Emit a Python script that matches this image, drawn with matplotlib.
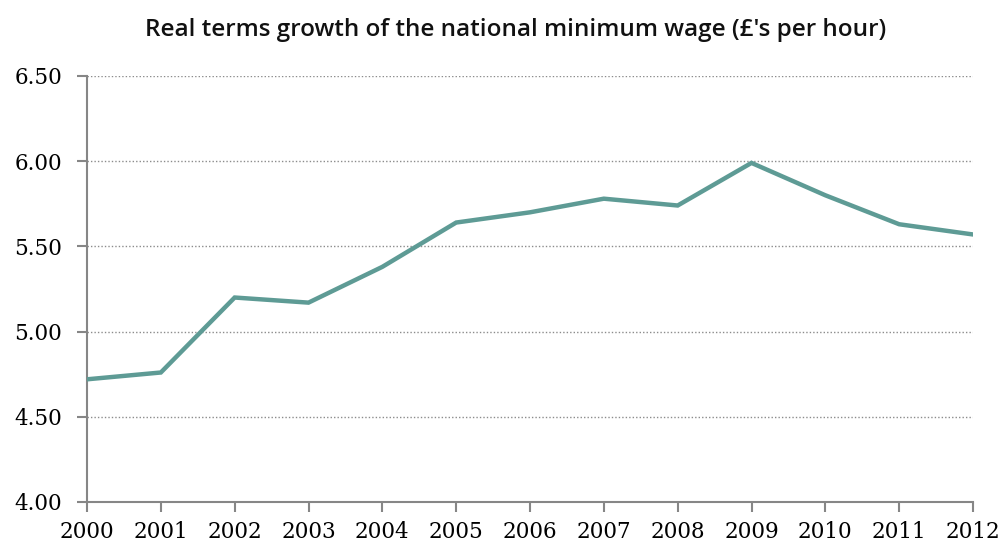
import matplotlib.pyplot as plt

years = [2000, 2001, 2002, 2003, 2004, 2005, 2006, 2007, 2008, 2009, 2010, 2011, 2012]
wage = [4.72, 4.76, 5.20, 5.17, 5.38, 5.64, 5.70, 5.78, 5.74, 5.99, 5.80, 5.63, 5.57]
yticks = [4.00, 4.50, 5.00, 5.50, 6.00, 6.50]

axis_grey = "#868686"

fig = plt.figure(figsize=(10.03, 5.46), dpi=100)
ax = fig.add_axes([87 / 1003, 1 - 502 / 546, 886 / 1003, 426 / 546])

ax.plot(years, wage, color="#5E9B95", lw=3.2, solid_joinstyle="miter", zorder=3)

ax.set_xlim(years[0], years[-1])
ax.set_ylim(yticks[0], yticks[-1])
ax.set_xticks(years)
ax.set_yticks(yticks)
ax.set_yticklabels([f"{v:.2f}" for v in yticks])

for t in yticks[1:]:
    ax.axhline(t, color="#8c8c8c", lw=1.0, ls=(0, (1, 1.5)), zorder=1)

for side in ("top", "right"):
    ax.spines[side].set_visible(False)
for side in ("left", "bottom"):
    ax.spines[side].set_color(axis_grey)
    ax.spines[side].set_linewidth(1.5)

ax.tick_params(axis="y", direction="out", length=7, width=1.5, color=axis_grey, pad=11)
ax.tick_params(axis="x", direction="out", length=7, width=1.5, color=axis_grey, pad=7)
for lbl in ax.get_xticklabels() + ax.get_yticklabels():
    lbl.set_family("DejaVu Serif")
    lbl.set_fontsize(15.5)
    lbl.set_color("#000000")

fig.text(516 / 1003, 1 - 30 / 546, "Real terms growth of the national minimum wage (£'s per hour)",
         ha="center", va="center", fontsize=17.5, fontweight="semibold", family="Open Sans", color="#111111")

fig.savefig("out.png", dpi=100)
